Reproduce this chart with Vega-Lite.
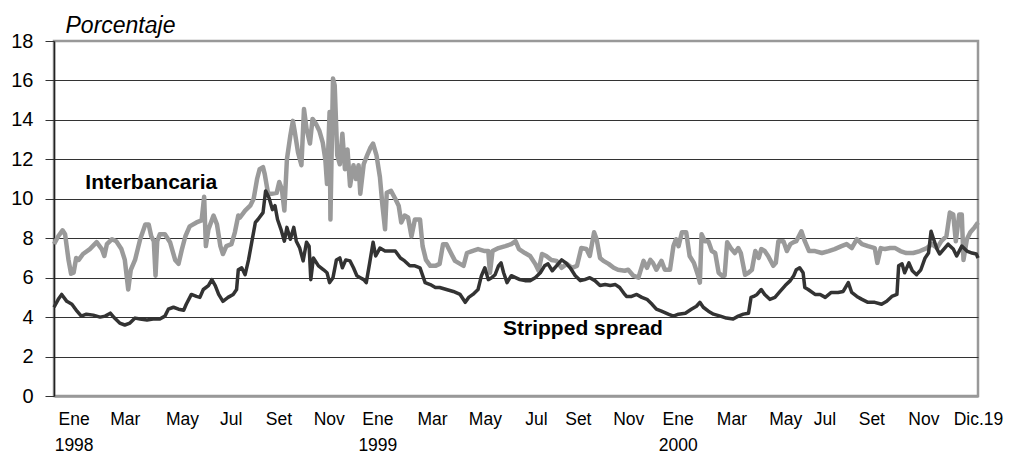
{
 "$schema": "https://vega.github.io/schema/vega-lite/v6.json",
 "width": 924,
 "height": 355,
 "autosize": {"type": "none"},
 "padding": {"left": 54, "top": 41, "right": 32, "bottom": 57},
 "background": "white",
 "config": {"view": {"stroke": "#999999", "strokeWidth": 2.5}, "font": "Liberation Sans"},
 "datasets": {
  "interbancaria": [
   {"fecha":"1998-01-01","valor":7.7},{"fecha":"1998-01-06","valor":8.1},{"fecha":"1998-01-11","valor":8.4},{"fecha":"1998-01-14","valor":8.2},{"fecha":"1998-01-18","valor":6.9},{"fecha":"1998-01-21","valor":6.2},{"fecha":"1998-01-24","valor":6.25},{"fecha":"1998-01-27","valor":7.0},{"fecha":"1998-01-30","valor":6.9},{"fecha":"1998-02-04","valor":7.2},{"fecha":"1998-02-12","valor":7.45},{"fecha":"1998-02-20","valor":7.8},{"fecha":"1998-02-26","valor":7.45},{"fecha":"1998-03-01","valor":7.1},{"fecha":"1998-03-04","valor":7.7},{"fecha":"1998-03-10","valor":7.95},{"fecha":"1998-03-15","valor":7.85},{"fecha":"1998-03-21","valor":7.45},{"fecha":"1998-03-25","valor":6.9},{"fecha":"1998-03-29","valor":5.4},{"fecha":"1998-04-01","valor":6.4},{"fecha":"1998-04-06","valor":6.9},{"fecha":"1998-04-12","valor":7.95},{"fecha":"1998-04-18","valor":8.7},{"fecha":"1998-04-22","valor":8.7},{"fecha":"1998-04-25","valor":8.1},{"fecha":"1998-04-28","valor":7.85},{"fecha":"1998-04-30","valor":6.1},{"fecha":"1998-05-02","valor":7.85},{"fecha":"1998-05-05","valor":8.2},{"fecha":"1998-05-11","valor":8.2},{"fecha":"1998-05-17","valor":7.8},{"fecha":"1998-05-23","valor":6.9},{"fecha":"1998-05-27","valor":6.7},{"fecha":"1998-05-31","valor":7.45},{"fecha":"1998-06-04","valor":8.1},{"fecha":"1998-06-09","valor":8.6},{"fecha":"1998-06-17","valor":8.8},{"fecha":"1998-06-23","valor":8.9},{"fecha":"1998-06-26","valor":10.1},{"fecha":"1998-06-28","valor":7.6},{"fecha":"1998-07-01","valor":8.45},{"fecha":"1998-07-07","valor":9.15},{"fecha":"1998-07-11","valor":8.7},{"fecha":"1998-07-15","valor":7.6},{"fecha":"1998-07-18","valor":7.2},{"fecha":"1998-07-22","valor":7.6},{"fecha":"1998-07-28","valor":7.7},{"fecha":"1998-08-01","valor":8.3},{"fecha":"1998-08-05","valor":9.15},{"fecha":"1998-08-07","valor":9.05},{"fecha":"1998-08-13","valor":9.4},{"fecha":"1998-08-19","valor":9.65},{"fecha":"1998-08-23","valor":10.0},{"fecha":"1998-08-27","valor":11.0},{"fecha":"1998-08-30","valor":11.5},{"fecha":"1998-09-03","valor":11.6},{"fecha":"1998-09-05","valor":11.25},{"fecha":"1998-09-09","valor":10.25},{"fecha":"1998-09-13","valor":10.25},{"fecha":"1998-09-19","valor":10.3},{"fecha":"1998-09-22","valor":10.85},{"fecha":"1998-09-25","valor":10.5},{"fecha":"1998-09-28","valor":9.4},{"fecha":"1998-10-01","valor":12.0},{"fecha":"1998-10-05","valor":13.2},{"fecha":"1998-10-08","valor":13.95},{"fecha":"1998-10-10","valor":13.45},{"fecha":"1998-10-14","valor":12.35},{"fecha":"1998-10-18","valor":11.7},{"fecha":"1998-10-21","valor":14.55},{"fecha":"1998-10-24","valor":13.55},{"fecha":"1998-10-28","valor":12.8},{"fecha":"1998-10-31","valor":14.05},{"fecha":"1998-11-04","valor":13.8},{"fecha":"1998-11-08","valor":13.45},{"fecha":"1998-11-12","valor":12.85},{"fecha":"1998-11-15","valor":12.0},{"fecha":"1998-11-17","valor":10.75},{"fecha":"1998-11-20","valor":14.4},{"fecha":"1998-11-21","valor":8.95},{"fecha":"1998-11-24","valor":16.1},{"fecha":"1998-11-26","valor":15.75},{"fecha":"1998-11-29","valor":12.2},{"fecha":"1998-12-02","valor":11.75},{"fecha":"1998-12-05","valor":13.3},{"fecha":"1998-12-08","valor":11.5},{"fecha":"1998-12-11","valor":12.5},{"fecha":"1998-12-14","valor":10.65},{"fecha":"1998-12-18","valor":11.7},{"fecha":"1998-12-21","valor":11.0},{"fecha":"1998-12-24","valor":11.7},{"fecha":"1998-12-26","valor":10.25},{"fecha":"1998-12-30","valor":11.75},{"fecha":"1999-01-03","valor":12.2},{"fecha":"1999-01-07","valor":12.6},{"fecha":"1999-01-10","valor":12.8},{"fecha":"1999-01-14","valor":12.2},{"fecha":"1999-01-18","valor":11.1},{"fecha":"1999-01-21","valor":9.65},{"fecha":"1999-01-24","valor":8.45},{"fecha":"1999-01-26","valor":10.3},{"fecha":"1999-01-31","valor":10.4},{"fecha":"1999-02-05","valor":10.0},{"fecha":"1999-02-09","valor":9.65},{"fecha":"1999-02-12","valor":8.8},{"fecha":"1999-02-16","valor":9.15},{"fecha":"1999-02-20","valor":9.05},{"fecha":"1999-02-24","valor":8.1},{"fecha":"1999-02-28","valor":8.95},{"fecha":"1999-03-06","valor":8.95},{"fecha":"1999-03-09","valor":7.6},{"fecha":"1999-03-13","valor":6.9},{"fecha":"1999-03-18","valor":6.6},{"fecha":"1999-03-24","valor":6.6},{"fecha":"1999-03-29","valor":6.7},{"fecha":"1999-04-02","valor":7.7},{"fecha":"1999-04-06","valor":7.7},{"fecha":"1999-04-10","valor":7.35},{"fecha":"1999-04-16","valor":6.85},{"fecha":"1999-04-22","valor":6.7},{"fecha":"1999-04-26","valor":6.6},{"fecha":"1999-04-30","valor":7.25},{"fecha":"1999-05-06","valor":7.35},{"fecha":"1999-05-13","valor":7.45},{"fecha":"1999-05-21","valor":7.35},{"fecha":"1999-05-25","valor":7.35},{"fecha":"1999-05-27","valor":6.25},{"fecha":"1999-05-30","valor":7.35},{"fecha":"1999-06-06","valor":7.5},{"fecha":"1999-06-14","valor":7.6},{"fecha":"1999-06-21","valor":7.7},{"fecha":"1999-06-26","valor":7.85},{"fecha":"1999-06-30","valor":7.45},{"fecha":"1999-07-07","valor":7.25},{"fecha":"1999-07-13","valor":7.1},{"fecha":"1999-07-19","valor":6.7},{"fecha":"1999-07-23","valor":6.35},{"fecha":"1999-07-27","valor":7.2},{"fecha":"1999-08-01","valor":7.1},{"fecha":"1999-08-07","valor":6.9},{"fecha":"1999-08-13","valor":6.85},{"fecha":"1999-08-19","valor":6.5},{"fecha":"1999-08-25","valor":6.7},{"fecha":"1999-08-31","valor":6.5},{"fecha":"1999-09-06","valor":6.6},{"fecha":"1999-09-11","valor":7.5},{"fecha":"1999-09-17","valor":7.45},{"fecha":"1999-09-21","valor":7.1},{"fecha":"1999-09-26","valor":8.3},{"fecha":"1999-09-29","valor":7.95},{"fecha":"1999-10-03","valor":7.0},{"fecha":"1999-10-07","valor":6.85},{"fecha":"1999-10-13","valor":6.7},{"fecha":"1999-10-19","valor":6.5},{"fecha":"1999-10-24","valor":6.4},{"fecha":"1999-11-01","valor":6.35},{"fecha":"1999-11-05","valor":6.4},{"fecha":"1999-11-11","valor":6.1},{"fecha":"1999-11-17","valor":6.0},{"fecha":"1999-11-23","valor":6.85},{"fecha":"1999-11-27","valor":6.5},{"fecha":"1999-12-01","valor":6.9},{"fecha":"1999-12-04","valor":6.75},{"fecha":"1999-12-08","valor":6.4},{"fecha":"1999-12-14","valor":6.85},{"fecha":"1999-12-18","valor":6.4},{"fecha":"1999-12-24","valor":6.4},{"fecha":"1999-12-28","valor":7.6},{"fecha":"1999-12-31","valor":7.95},{"fecha":"2000-01-03","valor":7.6},{"fecha":"2000-01-07","valor":8.3},{"fecha":"2000-01-12","valor":8.3},{"fecha":"2000-01-16","valor":7.1},{"fecha":"2000-01-21","valor":6.75},{"fecha":"2000-01-26","valor":6.1},{"fecha":"2000-01-28","valor":5.75},{"fecha":"2000-01-30","valor":8.2},{"fecha":"2000-02-03","valor":7.85},{"fecha":"2000-02-07","valor":7.85},{"fecha":"2000-02-11","valor":7.35},{"fecha":"2000-02-15","valor":7.25},{"fecha":"2000-02-19","valor":6.25},{"fecha":"2000-02-23","valor":6.1},{"fecha":"2000-02-26","valor":6.1},{"fecha":"2000-02-29","valor":7.8},{"fecha":"2000-03-05","valor":7.45},{"fecha":"2000-03-09","valor":7.25},{"fecha":"2000-03-13","valor":7.5},{"fecha":"2000-03-16","valor":7.25},{"fecha":"2000-03-21","valor":6.15},{"fecha":"2000-03-25","valor":6.25},{"fecha":"2000-03-29","valor":6.4},{"fecha":"2000-04-02","valor":7.35},{"fecha":"2000-04-06","valor":7.0},{"fecha":"2000-04-09","valor":7.45},{"fecha":"2000-04-13","valor":7.35},{"fecha":"2000-04-17","valor":7.1},{"fecha":"2000-04-23","valor":6.6},{"fecha":"2000-04-26","valor":6.75},{"fecha":"2000-04-29","valor":7.85},{"fecha":"2000-05-05","valor":7.85},{"fecha":"2000-05-09","valor":7.35},{"fecha":"2000-05-13","valor":7.7},{"fecha":"2000-05-17","valor":7.8},{"fecha":"2000-05-20","valor":7.85},{"fecha":"2000-05-26","valor":8.35},{"fecha":"2000-05-30","valor":7.85},{"fecha":"2000-06-04","valor":7.35},{"fecha":"2000-06-11","valor":7.35},{"fecha":"2000-06-19","valor":7.25},{"fecha":"2000-06-27","valor":7.35},{"fecha":"2000-07-04","valor":7.45},{"fecha":"2000-07-12","valor":7.6},{"fecha":"2000-07-18","valor":7.7},{"fecha":"2000-07-24","valor":7.5},{"fecha":"2000-07-30","valor":7.95},{"fecha":"2000-08-05","valor":7.7},{"fecha":"2000-08-12","valor":7.6},{"fecha":"2000-08-20","valor":7.5},{"fecha":"2000-08-23","valor":6.75},{"fecha":"2000-08-27","valor":7.5},{"fecha":"2000-09-01","valor":7.45},{"fecha":"2000-09-07","valor":7.5},{"fecha":"2000-09-13","valor":7.5},{"fecha":"2000-09-19","valor":7.35},{"fecha":"2000-09-26","valor":7.25},{"fecha":"2000-10-04","valor":7.25},{"fecha":"2000-10-12","valor":7.35},{"fecha":"2000-10-20","valor":7.5},{"fecha":"2000-10-26","valor":7.7},{"fecha":"2000-11-01","valor":7.5},{"fecha":"2000-11-06","valor":7.85},{"fecha":"2000-11-12","valor":8.1},{"fecha":"2000-11-16","valor":9.3},{"fecha":"2000-11-20","valor":9.2},{"fecha":"2000-11-23","valor":7.85},{"fecha":"2000-11-27","valor":9.2},{"fecha":"2000-11-30","valor":9.2},{"fecha":"2000-12-02","valor":6.9},{"fecha":"2000-12-06","valor":7.95},{"fecha":"2000-12-10","valor":8.3},{"fecha":"2000-12-15","valor":8.55},{"fecha":"2000-12-19","valor":8.8}
  ],
  "stripped": [
   {"fecha":"1998-01-01","valor":4.5},{"fecha":"1998-01-06","valor":4.9},{"fecha":"1998-01-10","valor":5.15},{"fecha":"1998-01-16","valor":4.8},{"fecha":"1998-01-22","valor":4.65},{"fecha":"1998-01-28","valor":4.3},{"fecha":"1998-02-02","valor":4.05},{"fecha":"1998-02-08","valor":4.15},{"fecha":"1998-02-16","valor":4.1},{"fecha":"1998-02-24","valor":4.0},{"fecha":"1998-03-02","valor":4.05},{"fecha":"1998-03-08","valor":4.2},{"fecha":"1998-03-13","valor":3.95},{"fecha":"1998-03-19","valor":3.7},{"fecha":"1998-03-25","valor":3.6},{"fecha":"1998-03-31","valor":3.7},{"fecha":"1998-04-06","valor":3.95},{"fecha":"1998-04-12","valor":3.9},{"fecha":"1998-04-20","valor":3.85},{"fecha":"1998-04-27","valor":3.9},{"fecha":"1998-05-05","valor":3.9},{"fecha":"1998-05-11","valor":4.05},{"fecha":"1998-05-15","valor":4.4},{"fecha":"1998-05-21","valor":4.5},{"fecha":"1998-05-27","valor":4.4},{"fecha":"1998-06-02","valor":4.35},{"fecha":"1998-06-05","valor":4.65},{"fecha":"1998-06-11","valor":5.15},{"fecha":"1998-06-17","valor":5.05},{"fecha":"1998-06-21","valor":5.0},{"fecha":"1998-06-25","valor":5.4},{"fecha":"1998-07-01","valor":5.6},{"fecha":"1998-07-05","valor":5.9},{"fecha":"1998-07-09","valor":5.6},{"fecha":"1998-07-13","valor":5.15},{"fecha":"1998-07-18","valor":4.8},{"fecha":"1998-07-24","valor":5.0},{"fecha":"1998-07-30","valor":5.15},{"fecha":"1998-08-03","valor":5.4},{"fecha":"1998-08-05","valor":6.4},{"fecha":"1998-08-09","valor":6.5},{"fecha":"1998-08-13","valor":6.15},{"fecha":"1998-08-17","valor":6.9},{"fecha":"1998-08-21","valor":7.85},{"fecha":"1998-08-25","valor":8.8},{"fecha":"1998-08-28","valor":8.95},{"fecha":"1998-09-03","valor":9.3},{"fecha":"1998-09-06","valor":10.4},{"fecha":"1998-09-10","valor":10.05},{"fecha":"1998-09-14","valor":9.45},{"fecha":"1998-09-17","valor":9.65},{"fecha":"1998-09-20","valor":8.95},{"fecha":"1998-09-24","valor":8.45},{"fecha":"1998-09-28","valor":7.85},{"fecha":"1998-10-01","valor":8.55},{"fecha":"1998-10-05","valor":7.95},{"fecha":"1998-10-09","valor":8.55},{"fecha":"1998-10-12","valor":7.85},{"fecha":"1998-10-16","valor":7.5},{"fecha":"1998-10-20","valor":6.85},{"fecha":"1998-10-24","valor":7.8},{"fecha":"1998-10-27","valor":7.6},{"fecha":"1998-10-29","valor":5.9},{"fecha":"1998-11-01","valor":7.0},{"fecha":"1998-11-07","valor":6.6},{"fecha":"1998-11-13","valor":6.4},{"fecha":"1998-11-17","valor":6.25},{"fecha":"1998-11-20","valor":5.75},{"fecha":"1998-11-24","valor":6.0},{"fecha":"1998-11-28","valor":6.9},{"fecha":"1998-12-02","valor":7.0},{"fecha":"1998-12-05","valor":6.5},{"fecha":"1998-12-09","valor":6.9},{"fecha":"1998-12-14","valor":6.85},{"fecha":"1998-12-18","valor":6.5},{"fecha":"1998-12-22","valor":6.1},{"fecha":"1998-12-26","valor":6.0},{"fecha":"1998-12-30","valor":5.9},{"fecha":"1999-01-02","valor":5.75},{"fecha":"1999-01-06","valor":6.75},{"fecha":"1999-01-10","valor":7.8},{"fecha":"1999-01-13","valor":7.1},{"fecha":"1999-01-18","valor":7.5},{"fecha":"1999-01-24","valor":7.35},{"fecha":"1999-01-30","valor":7.35},{"fecha":"1999-02-05","valor":7.35},{"fecha":"1999-02-11","valor":7.0},{"fecha":"1999-02-16","valor":6.85},{"fecha":"1999-02-22","valor":6.6},{"fecha":"1999-02-28","valor":6.6},{"fecha":"1999-03-06","valor":6.5},{"fecha":"1999-03-12","valor":5.75},{"fecha":"1999-03-18","valor":5.65},{"fecha":"1999-03-24","valor":5.5},{"fecha":"1999-03-29","valor":5.5},{"fecha":"1999-04-06","valor":5.4},{"fecha":"1999-04-14","valor":5.3},{"fecha":"1999-04-22","valor":5.15},{"fecha":"1999-04-28","valor":4.75},{"fecha":"1999-05-02","valor":5.0},{"fecha":"1999-05-07","valor":5.15},{"fecha":"1999-05-13","valor":5.4},{"fecha":"1999-05-17","valor":6.1},{"fecha":"1999-05-21","valor":6.5},{"fecha":"1999-05-25","valor":5.9},{"fecha":"1999-05-29","valor":6.0},{"fecha":"1999-06-02","valor":6.15},{"fecha":"1999-06-06","valor":6.6},{"fecha":"1999-06-09","valor":6.75},{"fecha":"1999-06-12","valor":6.25},{"fecha":"1999-06-16","valor":5.75},{"fecha":"1999-06-21","valor":6.1},{"fecha":"1999-06-26","valor":6.0},{"fecha":"1999-07-01","valor":5.9},{"fecha":"1999-07-07","valor":5.85},{"fecha":"1999-07-13","valor":5.85},{"fecha":"1999-07-19","valor":6.0},{"fecha":"1999-07-25","valor":6.25},{"fecha":"1999-07-30","valor":6.6},{"fecha":"1999-08-03","valor":6.7},{"fecha":"1999-08-08","valor":6.35},{"fecha":"1999-08-13","valor":6.6},{"fecha":"1999-08-19","valor":6.9},{"fecha":"1999-08-24","valor":6.75},{"fecha":"1999-08-29","valor":6.5},{"fecha":"1999-09-04","valor":6.1},{"fecha":"1999-09-10","valor":5.85},{"fecha":"1999-09-15","valor":5.9},{"fecha":"1999-09-21","valor":6.0},{"fecha":"1999-09-27","valor":5.85},{"fecha":"1999-10-03","valor":5.6},{"fecha":"1999-10-09","valor":5.65},{"fecha":"1999-10-15","valor":5.6},{"fecha":"1999-10-21","valor":5.65},{"fecha":"1999-10-26","valor":5.5},{"fecha":"1999-11-01","valor":5.15},{"fecha":"1999-11-03","valor":5.05},{"fecha":"1999-11-09","valor":5.05},{"fecha":"1999-11-15","valor":5.15},{"fecha":"1999-11-21","valor":5.0},{"fecha":"1999-11-27","valor":4.9},{"fecha":"1999-12-03","valor":4.65},{"fecha":"1999-12-08","valor":4.4},{"fecha":"1999-12-14","valor":4.3},{"fecha":"1999-12-22","valor":4.15},{"fecha":"1999-12-28","valor":4.05},{"fecha":"2000-01-03","valor":4.15},{"fecha":"2000-01-11","valor":4.2},{"fecha":"2000-01-18","valor":4.4},{"fecha":"2000-01-24","valor":4.55},{"fecha":"2000-01-28","valor":4.75},{"fecha":"2000-02-01","valor":4.5},{"fecha":"2000-02-07","valor":4.3},{"fecha":"2000-02-13","valor":4.15},{"fecha":"2000-02-21","valor":4.05},{"fecha":"2000-02-28","valor":3.95},{"fecha":"2000-03-07","valor":3.9},{"fecha":"2000-03-13","valor":4.05},{"fecha":"2000-03-19","valor":4.15},{"fecha":"2000-03-25","valor":4.2},{"fecha":"2000-03-28","valor":5.0},{"fecha":"2000-03-31","valor":5.05},{"fecha":"2000-04-04","valor":5.15},{"fecha":"2000-04-09","valor":5.4},{"fecha":"2000-04-13","valor":5.15},{"fecha":"2000-04-19","valor":4.9},{"fecha":"2000-04-25","valor":5.0},{"fecha":"2000-05-01","valor":5.3},{"fecha":"2000-05-07","valor":5.6},{"fecha":"2000-05-13","valor":5.85},{"fecha":"2000-05-17","valor":6.1},{"fecha":"2000-05-20","valor":6.4},{"fecha":"2000-05-24","valor":6.5},{"fecha":"2000-05-28","valor":6.25},{"fecha":"2000-05-30","valor":5.5},{"fecha":"2000-06-03","valor":5.4},{"fecha":"2000-06-11","valor":5.15},{"fecha":"2000-06-17","valor":5.15},{"fecha":"2000-06-23","valor":5.0},{"fecha":"2000-06-30","valor":5.25},{"fecha":"2000-07-08","valor":5.25},{"fecha":"2000-07-14","valor":5.3},{"fecha":"2000-07-20","valor":5.75},{"fecha":"2000-07-24","valor":5.25},{"fecha":"2000-07-30","valor":5.05},{"fecha":"2000-08-05","valor":4.9},{"fecha":"2000-08-12","valor":4.75},{"fecha":"2000-08-20","valor":4.75},{"fecha":"2000-08-28","valor":4.65},{"fecha":"2000-09-03","valor":4.8},{"fecha":"2000-09-09","valor":5.05},{"fecha":"2000-09-15","valor":5.15},{"fecha":"2000-09-17","valor":6.6},{"fecha":"2000-09-21","valor":6.7},{"fecha":"2000-09-24","valor":6.25},{"fecha":"2000-09-29","valor":6.75},{"fecha":"2000-10-03","valor":6.35},{"fecha":"2000-10-08","valor":6.15},{"fecha":"2000-10-13","valor":6.4},{"fecha":"2000-10-18","valor":7.0},{"fecha":"2000-10-22","valor":7.25},{"fecha":"2000-10-25","valor":8.35},{"fecha":"2000-10-28","valor":7.95},{"fecha":"2000-11-01","valor":7.45},{"fecha":"2000-11-04","valor":7.2},{"fecha":"2000-11-10","valor":7.5},{"fecha":"2000-11-14","valor":7.7},{"fecha":"2000-11-20","valor":7.45},{"fecha":"2000-11-24","valor":7.1},{"fecha":"2000-11-30","valor":7.6},{"fecha":"2000-12-06","valor":7.35},{"fecha":"2000-12-12","valor":7.25},{"fecha":"2000-12-17","valor":7.2},{"fecha":"2000-12-19","valor":7.0}
  ]
 },
 "layer": [
  {
   "data": {"name": "interbancaria"},
   "mark": {"type": "line", "color": "#9a9a9a", "strokeWidth": 4.5, "strokeJoin": "round"},
   "encoding": {
    "x": {"field": "fecha", "type": "temporal",
     "scale": {"type": "utc", "domain": [{"year": 1998, "month": 1, "date": 1, "utc": true}, {"year": 2000, "month": 12, "date": 19, "utc": true}]},
     "axis": {"title": null,
      "values": [{"year":1998,"month":1,"date":24,"utc":true},{"year":1998,"month":3,"date":25,"utc":true},{"year":1998,"month":5,"date":31,"utc":true},{"year":1998,"month":7,"date":27,"utc":true},{"year":1998,"month":9,"date":21,"utc":true},{"year":1998,"month":11,"date":19,"utc":true},{"year":1999,"month":1,"date":15,"utc":true},{"year":1999,"month":3,"date":20,"utc":true},{"year":1999,"month":5,"date":21,"utc":true},{"year":1999,"month":7,"date":20,"utc":true},{"year":1999,"month":9,"date":7,"utc":true},{"year":1999,"month":11,"date":5,"utc":true},{"year":2000,"month":1,"date":2,"utc":true},{"year":2000,"month":3,"date":5,"utc":true},{"year":2000,"month":5,"date":7,"utc":true},{"year":2000,"month":6,"date":22,"utc":true},{"year":2000,"month":8,"date":16,"utc":true},{"year":2000,"month":10,"date":16,"utc":true},{"year":2000,"month":12,"date":19,"utc":true}],
      "tickCount": 40,
      "labelExpr": "[['Ene','1998'],'Mar','May','Jul','Set','Nov',['Ene','1999'],'Mar','May','Jul','Set','Nov',['Ene','2000'],'Mar','May','Jul','Set','Nov','Dic.19'][round(((datum.value - utc(1998,0,1)) / 86400000 - 22.9) / 59)]",
      "labelAlign": "center", "labelBaseline": "top", "labelFont": "Liberation Sans", "labelFontSize": 17.5, "labelColor": "black",
      "labelPadding": 14, "labelLineHeight": 26, "labelFlush": false, "labelOverlap": false, "labelBound": false,
      "ticks": false, "grid": false, "domainColor": "#999999", "domainWidth": 2.5}
    },
    "y": {"field": "valor", "type": "quantitative",
     "scale": {"domain": [0, 18], "nice": false, "zero": true},
     "axis": {"title": "Porcentaje", "titleAngle": 0, "titleAlign": "left", "titleBaseline": "alphabetic", "titleX": 11, "titleY": -9,
      "titleFont": "Liberation Sans", "titleFontSize": 23, "titleFontStyle": "italic", "titleFontWeight": "normal", "titleColor": "black",
      "values": [0, 2, 4, 6, 8, 10, 12, 14, 16, 18], "tickCount": 20,
      "labelFont": "Liberation Sans", "labelFontSize": 20, "labelColor": "black", "labelPadding": 12,
      "labelOverlap": false, "labelFlush": false, "labelBound": false,
      "tickSize": 9, "tickColor": "#333333", "domainColor": "#222222", "domainWidth": 1.5,
      "grid": true, "gridWidth": 1,
      "gridColor": {"condition": {"test": "datum.value === 0 || datum.value === 18", "value": "#999999"}, "value": "#333333"}}
    }
   }
  },
  {
   "data": {"name": "stripped"},
   "mark": {"type": "line", "color": "#333333", "strokeWidth": 3.5, "strokeJoin": "round"},
   "encoding": {
    "x": {"field": "fecha", "type": "temporal"},
    "y": {"field": "valor", "type": "quantitative"}
   }
  },
  {
   "data": {"values": [
    {"fecha": "1998-04-25", "valor": 10.79, "etiqueta": "Interbancaria"},
    {"fecha": "1999-09-13", "valor": 3.39, "etiqueta": "Stripped spread"}
   ]},
   "mark": {"type": "text", "font": "Liberation Sans", "fontSize": 21, "fontWeight": "bold", "color": "black", "align": "center", "baseline": "middle"},
   "encoding": {
    "x": {"field": "fecha", "type": "temporal"},
    "y": {"field": "valor", "type": "quantitative"},
    "text": {"field": "etiqueta"}
   }
  }
 ]
}
